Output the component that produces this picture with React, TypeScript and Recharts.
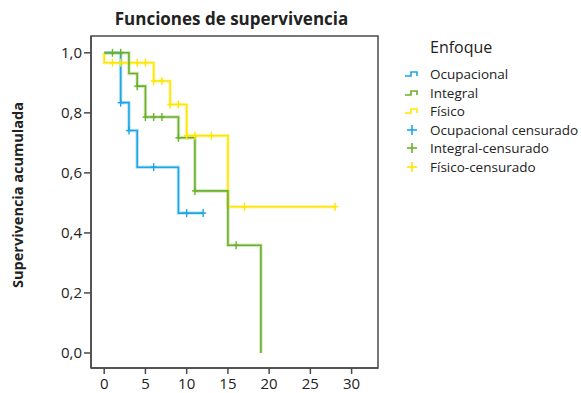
import React from "react";
import {
  ComposedChart,
  Line,
  Scatter,
  XAxis,
  YAxis,
  ReferenceArea,
} from "recharts";

// Kaplan-Meier curves per group (time, survival)
const ocupTimes = [0, 2, 3, 4, 9, 12];
const ocupSurv = [1.0, 0.834, 0.741, 0.619, 0.466, 0.466];
const ocupCensT = [2, 3, 6, 10, 12];
const ocupCensS = [0.834, 0.741, 0.619, 0.466, 0.466];

const integTimes = [0, 3, 4, 5, 9, 11, 15, 19];
const integSurv = [1.0, 0.931, 0.889, 0.786, 0.717, 0.54, 0.359, 0];
const integCensT = [1, 2, 4, 5, 6, 7, 9, 11, 16];
const integCensS = [1.0, 1.0, 0.889, 0.786, 0.786, 0.786, 0.717, 0.54, 0.359];

const fisTimes = [0, 0, 6, 8, 10, 15, 28];
const fisSurv = [1.0, 0.967, 0.906, 0.828, 0.724, 0.487, 0.487];
const fisCensT = [1, 2, 4, 5, 6, 7, 8, 9, 10, 11, 13, 17, 28];
const fisCensS = [0.967, 0.967, 0.967, 0.967, 0.906, 0.906, 0.828, 0.828, 0.724, 0.724, 0.724, 0.487, 0.487];

const xTicks = [0, 5, 10, 15, 20, 25, 30];
const yTicks = [0, 0.2, 0.4, 0.6, 0.8, 1.0];

const BLUE = "#1ea6e6";
const GREEN = "#6cb12b";
const YELLOW = "#ffe600";
const FONT = "'Open Sans', sans-serif";
const AXIS = "#4a4a4a";

const toPoints = (t: number[], s: number[]) => t.map((v, i) => ({ t: v, s: s[i] }));

const groups = [
  { name: "Ocupacional", color: BLUE, curve: toPoints(ocupTimes, ocupSurv), cens: toPoints(ocupCensT, ocupCensS) },
  { name: "Físico", color: YELLOW, curve: toPoints(fisTimes, fisSurv), cens: toPoints(fisCensT, fisCensS) },
  { name: "Integral", color: GREEN, curve: toPoints(integTimes, integSurv), cens: toPoints(integCensT, integCensS) },
];

const legendItems = [
  { label: "Ocupacional", color: BLUE, kind: "step" },
  { label: "Integral", color: GREEN, kind: "step" },
  { label: "Físico", color: YELLOW, kind: "step" },
  { label: "Ocupacional censurado", color: BLUE, kind: "plus" },
  { label: "Integral-censurado", color: GREEN, kind: "plus" },
  { label: "Físico-censurado", color: YELLOW, kind: "plus" },
];

const plusShape = (color: string) => (props: any) => {
  const { cx, cy } = props;
  if (cx == null || cy == null) return <g />;
  return (
    <g stroke={color} strokeWidth={1.4}>
      <line x1={cx} y1={cy - 4} x2={cx} y2={cy + 4} />
      <line x1={cx - 3} y1={cy} x2={cx + 3} y2={cy} />
    </g>
  );
};

const LegendBox = () => (
  <div style={{ position: "absolute", left: 403, top: 37, width: 178, fontFamily: FONT, color: "#222" }}>
    <div style={{ fontSize: 16, marginLeft: 27, marginBottom: 8, lineHeight: "20px" }}>Enfoque</div>
    {legendItems.map((it) => (
      <div key={it.label} style={{ display: "flex", alignItems: "center", height: 18.5 }}>
        <svg width={27} height={14}>
          {it.kind === "step" ? (
            <path d="M2 9 H8 V5 H14 V9" fill="none" stroke={it.color} strokeWidth={1.6} />
          ) : (
            <g stroke={it.color} strokeWidth={1.6}>
              <line x1={9} y1={2} x2={9} y2={12} />
              <line x1={4} y1={7} x2={14} y2={7} />
            </g>
          )}
        </svg>
        <span style={{ fontSize: 13.5, lineHeight: "16px" }}>{it.label}</span>
      </div>
    ))}
  </div>
);

export default function App() {
  return (
    <div style={{ position: "absolute", left: 0, top: 0, width: 581, height: 393, background: "#fff" }}>
      <div
        style={{
          position: "absolute",
          left: 88,
          width: 287,
          top: 7,
          textAlign: "center",
          fontFamily: FONT,
          fontWeight: 700,
          fontSize: 17,
          color: "#222",
        }}
      >
        Funciones de supervivencia
      </div>
      <div
        style={{
          position: "absolute",
          left: 18 - 110,
          top: 195 - 10,
          width: 220,
          height: 20,
          lineHeight: "20px",
          textAlign: "center",
          transform: "rotate(-90deg)",
          fontFamily: FONT,
          fontWeight: 700,
          fontSize: 14.5,
          color: "#222",
        }}
      >
        Supervivencia acumulada
      </div>
      <LegendBox />
      <ComposedChart
        width={581}
        height={393}
        margin={{ top: 36, right: 203, bottom: 0, left: 0 }}
        style={{ fontFamily: FONT }}
      >
        <XAxis
          dataKey="t"
          type="number"
          domain={[-1.6, 33.2]}
          ticks={xTicks}
          allowDataOverflow
          height={25}
          tickSize={6}
          tickMargin={4}
          stroke={AXIS}
          strokeWidth={1.5}
          tick={{ fill: "#222", fontSize: 15 }}
        />
        <YAxis
          dataKey="s"
          type="number"
          domain={[-0.05, 1.056]}
          ticks={yTicks}
          allowDataOverflow
          width={91}
          tickSize={7}
          tickMargin={2}
          stroke={AXIS}
          strokeWidth={1.5}
          tick={{ fill: "#222", fontSize: 15 }}
          tickFormatter={(v: number) => v.toFixed(1).replace(".", ",")}
        />
        <ReferenceArea
          x1={-1.6}
          x2={33.2}
          y1={-0.05}
          y2={1.056}
          fill="none"
          stroke={AXIS}
          strokeWidth={1.5}
          fillOpacity={0}
          strokeOpacity={1}
          ifOverflow="visible"
        />
        {groups.map((g) => (
          <Line
            key={g.name + "-halo"}
            data={g.curve}
            dataKey="s"
            type="stepAfter"
            stroke={g.color}
            strokeOpacity={0.3}
            strokeWidth={3.5}
            dot={false}
            activeDot={false}
            legendType="none"
            isAnimationActive={false}
          />
        ))}
        {groups.map((g) => [
          <Line
            key={g.name}
            data={g.curve}
            dataKey="s"
            name={g.name}
            type="stepAfter"
            stroke={g.color}
            strokeWidth={1.6}
            dot={false}
            activeDot={false}
            isAnimationActive={false}
          />,
          <Scatter
            key={g.name + "-cens"}
            data={g.cens}
            dataKey="s"
            name={g.name + " censurado"}
            shape={plusShape(g.color)}
            isAnimationActive={false}
          />,
        ])}
      </ComposedChart>
    </div>
  );
}
